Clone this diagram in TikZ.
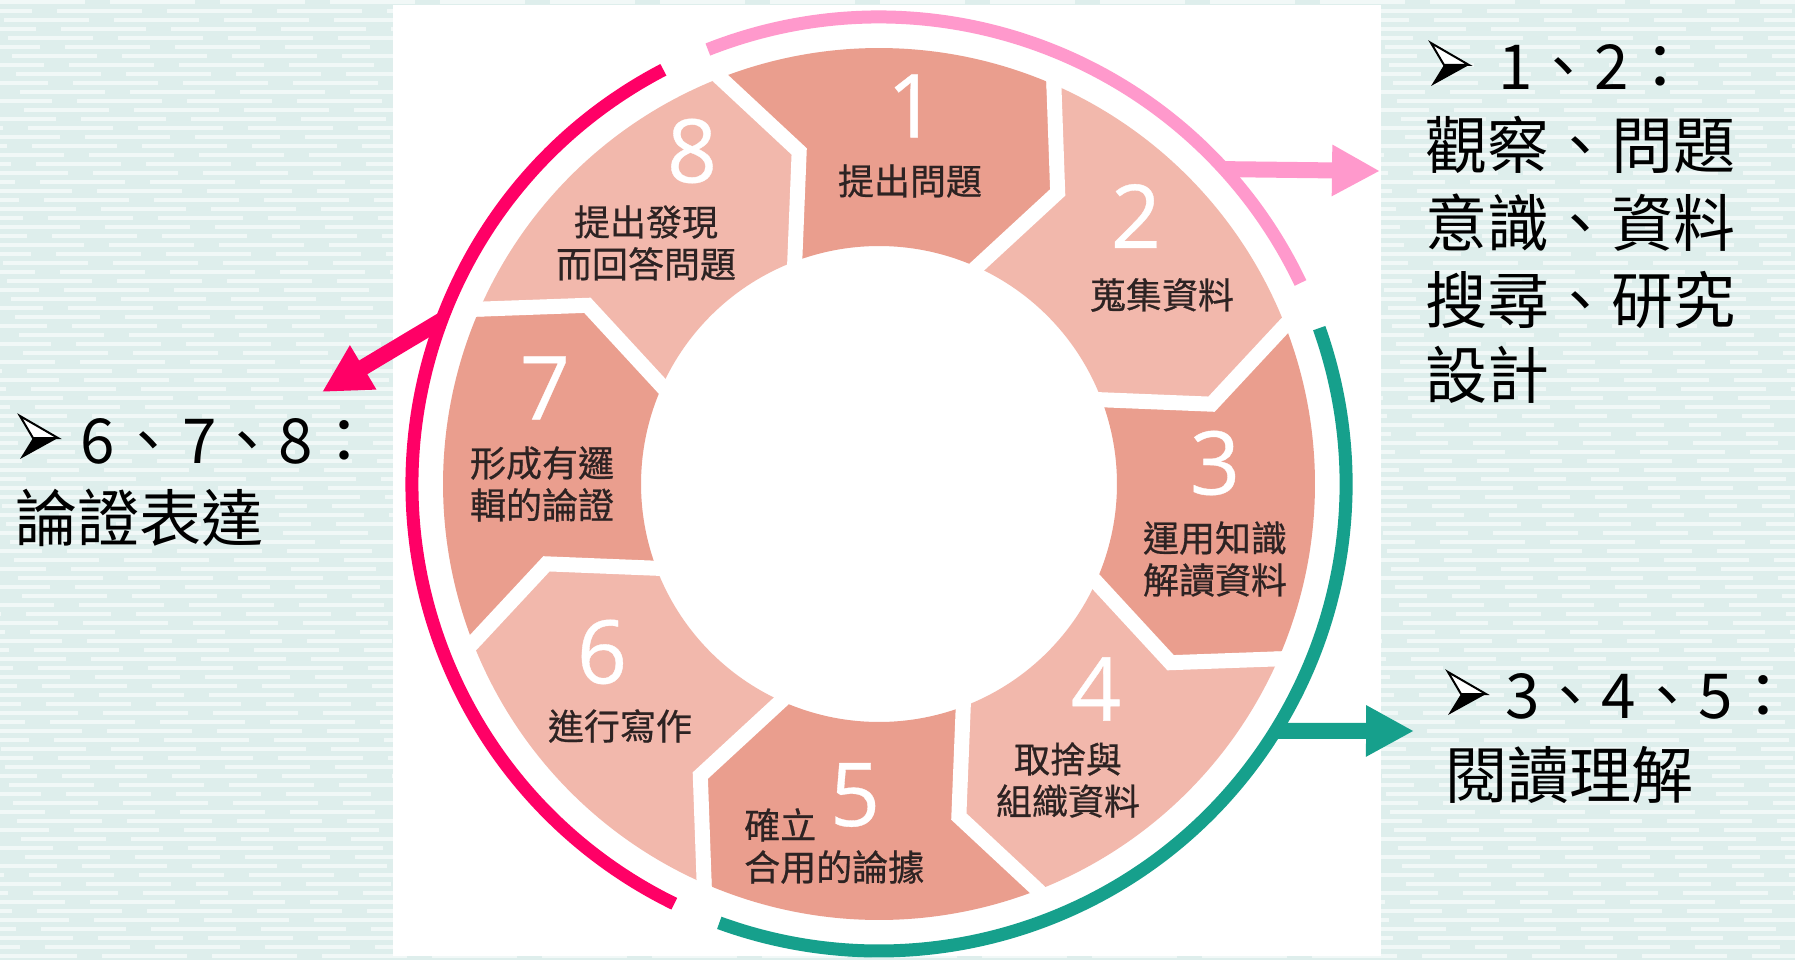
\documentclass[tikz,border=0pt]{standalone}
\usepackage{fontspec}
\usetikzlibrary{arrows.meta}
\newfontfamily\cjk{Noto Sans CJK TC}
\newfontfamily\cjkmed[FakeBold=0.6]{Noto Sans CJK TC}
\newfontfamily\numfont[FakeBold=0.4]{Open Sans}
\definecolor{bgaqua}{RGB}{222,238,236}
\definecolor{segdark}{RGB}{234,158,142}
\definecolor{seglight}{RGB}{242,184,172}
\definecolor{ringred}{RGB}{255,0,102}
\definecolor{ringpink}{RGB}{255,153,204}
\definecolor{ringteal}{RGB}{22,160,140}
\definecolor{labeltext}{RGB}{45,35,35}
\tikzset{
  numstyle/.style={font=\numfont\fontsize{88}{88}\selectfont, text=white, inner sep=0pt},
  segtext/.style={font=\cjkmed\fontsize{36}{42}\selectfont, text=labeltext, align=center, inner sep=0pt},
  bigtext/.style={font=\cjk\fontsize{62}{77}\selectfont, text=black, anchor=base west, inner sep=0pt},
  callout/.style={line width=16pt, -{Triangle[length=48pt,width=48pt]}},
  ringarc/.style={line width=13pt},
  bulletmark/.pic={
    \fill[black] (13,22) -- (38,22) -- (0,43) -- cycle;
    \filldraw[fill=white, draw=black, line width=2pt, line join=miter] (0,0) -- (38,22) -- (13,22) -- cycle;
  }
}
\begin{document}
\begin{tikzpicture}[x=1pt,y=-1pt]
\useasboundingbox (0,0) rectangle (1795,960);
% textured background
\fill[bgaqua] (0,0) rectangle (1795,960);
\foreach \i in {0,...,106} {
  \pgfmathsetmacro\yy{\i*9+2}
  \pgfmathsetmacro\ph{mod(\i*53,110)}
  \draw[white, opacity=0.6, line width=3.5pt, dash pattern=on 85pt off 25pt, dash phase=\ph pt] (0,\yy) -- (1795,\yy);
}
% photo area
\fill[white] (393,5) rectangle (1381,956);

\begin{scope}[shift={(879,484)}, yscale=-1]
  \def\Ro{436}\def\Ri{238}\def\Rm{342}\def\dd{9}
  \foreach \k/\col in {1/segdark,2/seglight,3/segdark,4/seglight,5/segdark,6/seglight,7/segdark,8/seglight} {
    \pgfmathsetmacro\cc{90-45*(\k-1)}
    \pgfmathsetmacro\aa{\cc+22.5}
    \pgfmathsetmacro\bb{\cc-22.5}
    \pgfmathsetmacro\am{\aa-\dd}
    \pgfmathsetmacro\bm{\bb-\dd}
    \fill[\col] (\aa:\Ro) arc[start angle=\aa, end angle=\bb, radius=\Ro]
      -- (\bm:\Rm) -- (\bb:\Ri) arc[start angle=\bb, end angle=\aa, radius=\Ri]
      -- (\am:\Rm) -- cycle;
  }
  \foreach \bb in {112.5,67.5,22.5,-22.5,-67.5,-112.5,-157.5,157.5} {
    \pgfmathsetmacro\bm{\bb-\dd}
    \draw[white, line width=15pt, line join=miter] (\bb:455) -- (\bm:\Rm) -- (\bb:222);
  }
  % arc points for callouts
  \coordinate (redStart) at (159.5:467);
  \coordinate (pinkStart) at (42.4:467);
  \coordinate (tealStart) at (-31.9:467);
\end{scope}

% callout tips
\coordinate (redTip) at (322,392);
\coordinate (pinkTip) at (1380,171);
\coordinate (tealTip) at (1414,731);
\draw[callout, ringred] (redStart) -- (redTip);
\draw[callout, ringpink] (pinkStart) -- (pinkTip);
\draw[callout, ringteal] (tealStart) -- (tealTip);

\begin{scope}[shift={(879,484)}, yscale=-1]
  \draw[ringarc, ringred] (117.5:467) arc[start angle=117.5, end angle=244, radius=467];
  \draw[ringarc, ringpink] (111.5:467) arc[start angle=111.5, end angle=25.5, radius=467];
  \draw[ringarc, ringteal] (19.5:467) arc[start angle=19.5, end angle=-110, radius=467];
\end{scope}

% numbers
\node[numstyle] (n1) at (912,106) {1};
\node[numstyle] (n2) at (1136,216) {2};
\node[numstyle] (n3) at (1215,463) {3};
\node[numstyle] (n4) at (1096,689) {4};
\node[numstyle] (n5) at (855,795) {5};
\node[numstyle] (n6) at (602,652) {6};
\node[numstyle] (n7) at (545,388) {7};
\node[numstyle] (n8) at (692,151) {8};

% segment labels
\node[segtext] (s1) at (910,181) {提出問題};
\node[segtext] (s2) at (1162,295) {蒐集資料};
\node[segtext] (s3) at (1215,559) {運用知識\\解讀資料};
\node[segtext] (s4) at (1068,780) {取捨與\\組織資料};
\node[segtext, align=left, anchor=west] (s5) at (744,846) {確立\\合用的論據};
\node[segtext] (s6) at (620,726) {進行寫作};
\node[segtext] (s7) at (542,484) {形成有邏\\輯的論證};
\node[segtext] (s8) at (646,243) {提出發現\\而回答問題};

% right top block
\pic (b12) at (1431,43) {bulletmark};
\node[bigtext] (h12) at (1498,90) {1、2：};
\node[bigtext] (t12a) at (1425,169) {觀察、問題};
\node[bigtext] (t12b) at (1425,246) {意識、資料};
\node[bigtext] (t12c) at (1425,323) {搜尋、研究};
\node[bigtext] (t12d) at (1425,398) {設計};

% right bottom block
\pic (b345) at (1448,672) {bulletmark};
\node[bigtext] (h345) at (1505,718) {3、4、5：};
\node[bigtext] (t345) at (1445,798) {閱讀理解};

% left block
\pic (b678) at (20,416) {bulletmark};
\node[bigtext] (h678) at (80,463) {6\kern3pt、\kern3pt7、8：};
\node[bigtext] (t678) at (15,541) {論證表達};
\end{tikzpicture}
\end{document}
